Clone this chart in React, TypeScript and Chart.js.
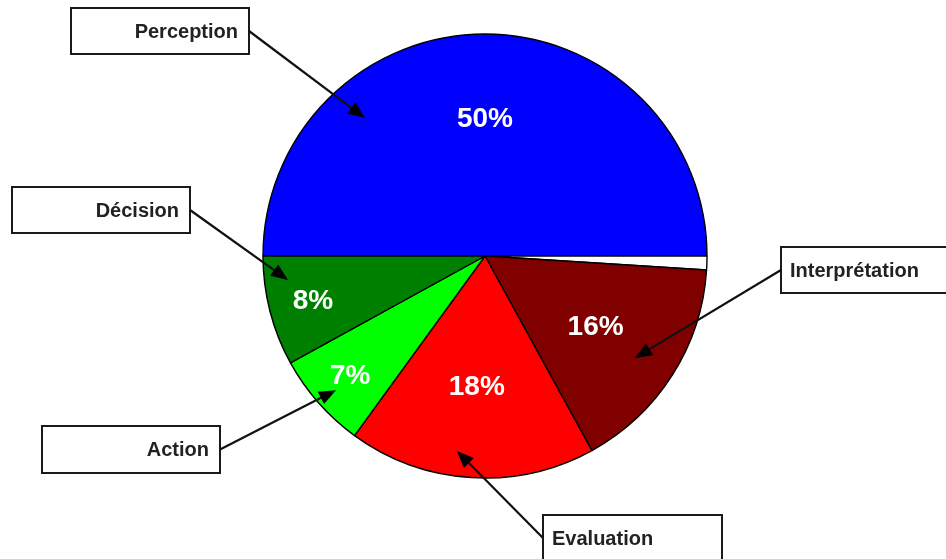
import React, { useEffect, useRef } from "react";
import { Chart, registerables } from "chart.js";

Chart.register(...registerables);

// Shares of each phase, in percent (the unlabelled slice is the remainder).
const categories = ["Perception", "", "Interprétation", "Evaluation", "Action", "Décision"];
const shares = [50, 1, 16, 18, 7, 8];
const sliceColors = ["#0000FF", "#FFFFFF", "#800000", "#FF0000", "#00FF00", "#008000"];

// Callout boxes: rectangle, text alignment, and where the arrow lands inside the slice
// (fraction along the slice's angle span, fraction of the radius).
type Callout = {
  index: number;
  box: [number, number, number, number];
  align: "left" | "right";
  side: "left" | "right";
  tipAlong: number;
  tipRadius: number;
};

const callouts: Callout[] = [
  { index: 0, box: [71, 8, 178, 46], align: "right", side: "right", tipAlong: 0.272, tipRadius: 0.824 },
  { index: 5, box: [12, 187, 178, 46], align: "right", side: "right", tipAlong: 0.759, tipRadius: 0.894 },
  { index: 4, box: [42, 426, 178, 47], align: "right", side: "right", tipAlong: 0.476, tipRadius: 0.903 },
  { index: 3, box: [543, 515, 179, 46], align: "left", side: "left", tipAlong: 0.571, tipRadius: 0.887 },
  { index: 2, box: [781, 247, 178, 46], align: "left", side: "left", tipAlong: 0.531, tipRadius: 0.817 },
];

// Radial position of each percentage label (fraction of the radius).
const pctRadius: Record<number, number> = { 0: 0.62, 2: 0.59, 3: 0.59, 4: 0.81, 5: 0.8 };

const FONT = '"Liberation Sans", Arial, Helvetica, sans-serif';

const calloutPlugin = {
  id: "callouts",
  afterDatasetsDraw(chart: any) {
    const ctx: CanvasRenderingContext2D = chart.ctx;
    const meta = chart.getDatasetMeta(0);
    const arcs = meta.data as any[];

    // percentage labels
    ctx.save();
    ctx.fillStyle = "#FFFFFF";
    ctx.font = `bold 28px ${FONT}`;
    ctx.textAlign = "center";
    ctx.textBaseline = "middle";
    arcs.forEach((arc, i) => {
      const rf = pctRadius[i];
      if (rf === undefined) return;
      const { x, y, startAngle, endAngle, outerRadius } = arc.getProps(
        ["x", "y", "startAngle", "endAngle", "outerRadius"],
        true
      );
      const mid = (startAngle + endAngle) / 2;
      const px = x + Math.cos(mid) * outerRadius * rf;
      const py = y + Math.sin(mid) * outerRadius * rf;
      ctx.fillText(`${shares[i]}%`, px, py + 1);
    });
    ctx.restore();

    // callout boxes and arrows
    callouts.forEach((c) => {
      const arc = arcs[c.index];
      const { x, y, startAngle, endAngle, outerRadius } = arc.getProps(
        ["x", "y", "startAngle", "endAngle", "outerRadius"],
        true
      );
      const ang = startAngle + (endAngle - startAngle) * c.tipAlong;
      const tx = x + Math.cos(ang) * outerRadius * c.tipRadius;
      const ty = y + Math.sin(ang) * outerRadius * c.tipRadius;
      const [bx, by, bw, bh] = c.box;
      const sx = c.side === "right" ? bx + bw : bx;
      const sy = by + bh / 2;

      ctx.save();
      // box
      ctx.fillStyle = "#FFFFFF";
      ctx.fillRect(bx, by, bw, bh);
      ctx.strokeStyle = "#1a1a1a";
      ctx.lineWidth = 2;
      ctx.strokeRect(bx, by, bw, bh);

      // text
      ctx.fillStyle = "#222222";
      ctx.font = `bold 20px ${FONT}`;
      ctx.textBaseline = "middle";
      ctx.textAlign = c.align;
      const textX = c.align === "right" ? bx + bw - 11 : bx + 9;
      ctx.fillText(categories[c.index], textX, sy + 1);

      // arrow
      const dx = tx - sx;
      const dy = ty - sy;
      const len = Math.hypot(dx, dy);
      const ux = dx / len;
      const uy = dy / len;
      const headLen = 17;
      const headHalf = 7;
      ctx.strokeStyle = "#111111";
      ctx.lineWidth = 2.2;
      ctx.beginPath();
      ctx.moveTo(sx, sy);
      ctx.lineTo(tx - ux * headLen * 0.8, ty - uy * headLen * 0.8);
      ctx.stroke();
      ctx.fillStyle = "#000000";
      ctx.beginPath();
      ctx.moveTo(tx, ty);
      ctx.lineTo(tx - ux * headLen - uy * headHalf, ty - uy * headLen + ux * headHalf);
      ctx.lineTo(tx - ux * headLen + uy * headHalf, ty - uy * headLen - ux * headHalf);
      ctx.closePath();
      ctx.fill();
      ctx.restore();
    });
  },
};

export default function App() {
  const canvasRef = useRef<HTMLCanvasElement | null>(null);

  useEffect(() => {
    const canvas = canvasRef.current;
    if (!canvas) return;
    const chart = new Chart(canvas, {
      type: "pie",
      data: {
        labels: categories,
        datasets: [
          {
            data: shares,
            backgroundColor: sliceColors,
            borderColor: "#000000",
            borderWidth: 1.4,
          },
        ],
      },
      options: {
        responsive: false,
        animation: false,
        events: [],
        rotation: -90,
        radius: 222,
        layout: { padding: { left: 24, right: 0, top: 0, bottom: 47 } },
        plugins: {
          legend: { display: false },
          tooltip: { enabled: false },
          title: { display: false },
        },
      },
      plugins: [calloutPlugin],
    });
    return () => chart.destroy();
  }, []);

  return (
    <div style={{ position: "absolute", left: 0, top: 0, width: 946, height: 559, background: "#FFFFFF" }}>
      <canvas ref={canvasRef} width={946} height={559} style={{ display: "block" }} />
    </div>
  );
}
